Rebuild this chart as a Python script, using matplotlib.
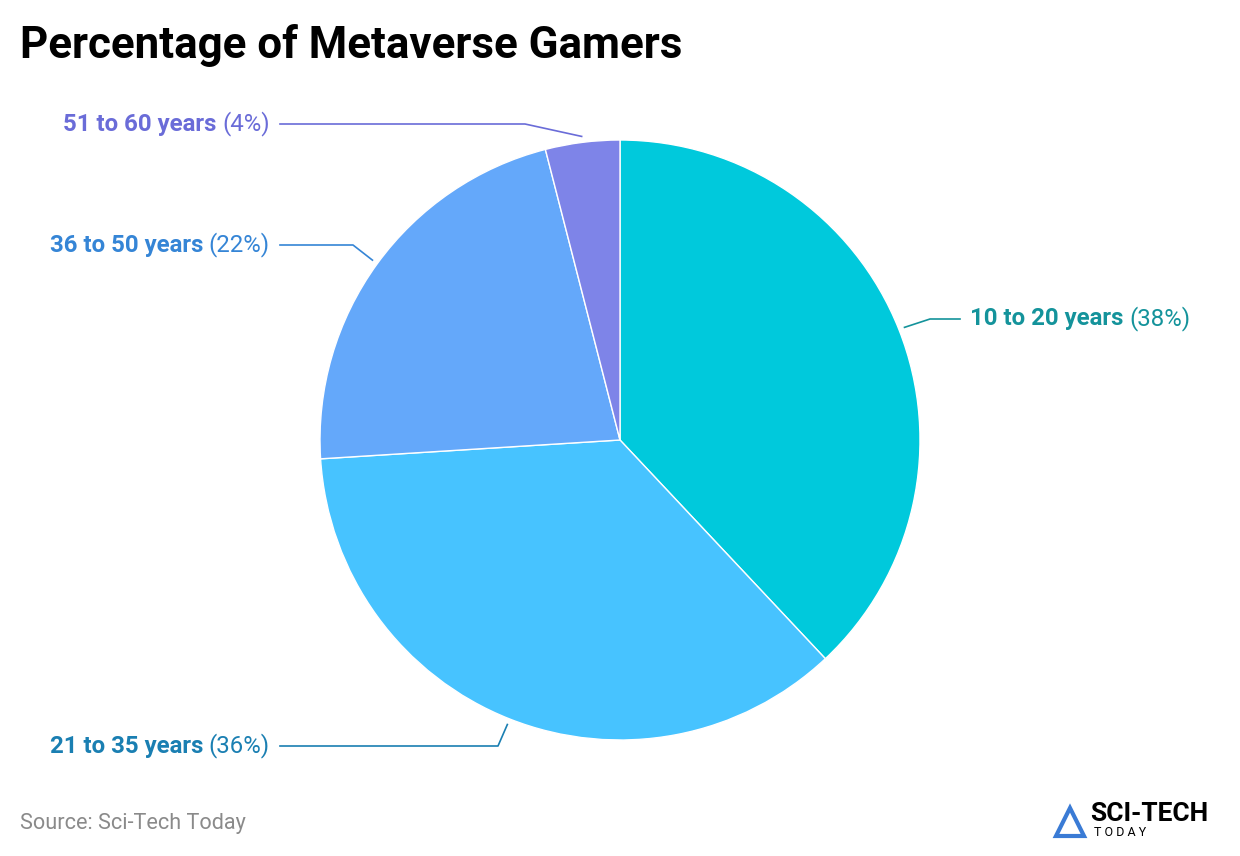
import numpy as np
import matplotlib
matplotlib.use("Agg")
import matplotlib.pyplot as plt

labels = ["10 to 20 years", "21 to 35 years", "36 to 50 years", "51 to 60 years"]
values = [38, 36, 22, 4]
colors = ["#00C9DC", "#47C3FF", "#64A8FA", "#7E84E8"]
text_colors = ["#14939B", "#1A7FB2", "#3585D6", "#6A6CD8"]

W, H = 1240, 856
fig = plt.figure(figsize=(W/100, H/100), dpi=100)
cx, cy, R = 620, 440, 300
ax = fig.add_axes([(cx-R)/W, (H-cy-R)/H, 2*R/W, 2*R/H])
ax.pie(values, colors=colors, startangle=90, counterclock=False,
       wedgeprops=dict(edgecolor="white", linewidth=1))
ax.set_xlim(-1, 1); ax.set_ylim(-1, 1); ax.axis("off")

ov = fig.add_axes([0, 0, 1, 1], zorder=5)
ov.set_xlim(0, W); ov.set_ylim(H, 0); ov.axis("off")

layout = [(930, 319, 960, 970, "left"),
          (498, 746, 280, 270, "right"),
          (353, 245, 280, 270, "right"),
          (525, 124, 280, 270, "right")]
fig.canvas.draw()
r = fig.canvas.get_renderer()
start = 90.0
total = sum(values)
for i, v in enumerate(values):
    ang = np.deg2rad(start - 360*v/total/2)
    start -= 360*v/total
    sx, sy = cx + 1.02*R*np.cos(ang), cy - 1.02*R*np.sin(ang)
    ex, ey, lx, tx, al = layout[i]
    ov.plot([sx, ex, lx], [sy, ey, ey], color=text_colors[i], lw=1.2)
    kw = dict(fontsize=17.3, family="Roboto", color=text_colors[i], va="center")
    if al == "left":
        t = ov.text(tx, ey, labels[i], fontweight="bold", ha="left", **kw)
        bb = t.get_window_extent(r)
        ov.text(bb.x1 + 6, ey, f"({v}%)", ha="left", **kw)
    else:
        t = ov.text(tx, ey, f"({v}%)", ha="right", **kw)
        bb = t.get_window_extent(r)
        ov.text(bb.x0 - 6, ey, labels[i], fontweight="bold", ha="right", **kw)

ov.text(20, 45, "Percentage of Metaverse Gamers", fontsize=31.6, fontweight="bold",
        family="Roboto", color="black", va="center", ha="left")
ov.text(20, 823, "Source: Sci-Tech Today", fontsize=15.6, family="Roboto",
        color="#8a8a8a", va="center", ha="left")
ov.text(1090, 814, "SCI-TECH", fontsize=19, fontweight="bold", family="Roboto",
        color="black", va="center", ha="left")
ov.text(1094, 833, "T O D A Y", fontsize=9, family="Roboto", color="black",
        va="center", ha="left")
ov.add_patch(plt.Polygon([[1056, 836], [1070, 808], [1084, 836]], closed=True,
                         fill=False, edgecolor="#3a7bd5", lw=3))
fig.savefig("out.png", dpi=100)
